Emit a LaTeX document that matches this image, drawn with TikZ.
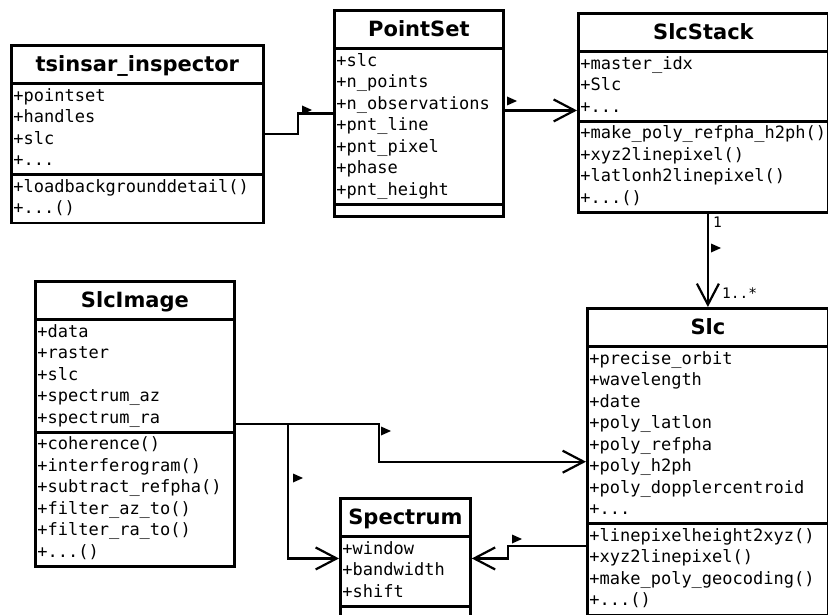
\documentclass[tikz,border=0pt]{standalone}
\usepackage{fontspec}
\setmainfont{DejaVu Sans}
\setmonofont{DejaVu Sans Mono}
\usepackage{tikz}
\usetikzlibrary{shapes.multipart, arrows.meta, positioning}
\newcommand{\classname}[1]{{\fontsize{21}{33}\selectfont\bfseries\begin{tabular}{@{}c@{}}#1\end{tabular}}}
\newcommand{\members}[1]{{\fontsize{17}{21.5}\selectfont\ttfamily\begin{tabular}{@{}l@{}}#1\end{tabular}}}
\tikzset{
    umlclass/.style={rectangle split, rectangle split parts=3, draw, line width=2.8pt, fill=white, inner xsep=2pt, inner ysep=1.2pt, rectangle split part align={center,left,left}, rectangle split empty part height=7pt, rectangle split empty part depth=0pt, anchor=north west},
    link/.style={line width=2.2pt},
    assoc/.style={link, -{Straight Barb[length=21pt,width=22pt]}},
    mult/.style={font=\fontsize{14.5}{16}\selectfont\ttfamily, inner sep=0pt},
    dirmark/.pic={\fill (0,-4.5) -- (10,0) -- (0,4.5) -- cycle;}
}
\begin{document}
\begin{tikzpicture}[x=1pt, y=-1pt]
        \useasboundingbox (0,0) rectangle (828,615);
        % -- Classes --
        \node (inspector) [umlclass, minimum width=252pt] at (10,44) {\classname{tsinsar\_inspector}\nodepart{two}\members{+pointset\\+handles\\+slc\\+...}\nodepart{three}\members{+loadbackgrounddetail()\\+...()}};
        \node (pointset) [umlclass, minimum width=169pt] at (333,9) {\classname{PointSet}\nodepart{two}\members{+slc\\+n\_points\\+n\_observations\\+pnt\_line\\+pnt\_pixel\\+phase\\+pnt\_height}\nodepart{three}};
        \node (slcstack) [umlclass, minimum width=250pt] at (577,12) {\classname{SlcStack}\nodepart{two}\members{+master\_idx\\+Slc\\+...}\nodepart{three}\members{+make\_poly\_refpha\_h2ph()\\+xyz2linepixel()\\+latlonh2linepixel()\\+...()}};
        \node (slc) [umlclass, minimum width=241pt] at (586,307) {\classname{Slc}\nodepart{two}\members{+precise\_orbit\\+wavelength\\+date\\+poly\_latlon\\+poly\_refpha\\+poly\_h2ph\\+poly\_dopplercentroid\\+...}\nodepart{three}\members{+linepixelheight2xyz()\\+xyz2linepixel()\\+make\_poly\_geocoding()\\+...()}};
        \node (slcimage) [umlclass, minimum width=199pt] at (34,280) {\classname{SlcImage}\nodepart{two}\members{+data\\+raster\\+slc\\+spectrum\_az\\+spectrum\_ra}\nodepart{three}\members{+coherence()\\+interferogram()\\+subtract\_refpha()\\+filter\_az\_to()\\+filter\_ra\_to()\\+...()}};
        \node (spectrum) [umlclass, minimum width=130pt] at (339,497) {\classname{Spectrum}\nodepart{two}\members{+window\\+bandwidth\\+shift}\nodepart{three}};

        % -- Associations --
        \draw [link] (inspector.east) -- ++(33,0) |- (pointset.west);
        \pic (mark-ins) at (302,110) {dirmark};

        \coordinate (ps-out) at ([yshift=3pt]pointset.east);
        \draw [assoc] (ps-out) -- (ps-out -| slcstack.west);
        \pic (mark-ps) at (507,101) {dirmark};

        \draw [assoc] (slcstack.south -| slc.north) -- (slc.north);
        \node [mult, anchor=base west] (one) at (713,227) {1};
        \node [mult, anchor=base west] (many) at (722,298) {1..*};
        \pic (mark-stack) at (711,248) {dirmark};

        \draw [assoc] (slcimage.east) -- ++(143,0) |- (slc.west);
        \pic (mark-img) at (381,431) {dirmark};

        \draw [assoc] (slcimage.east) -- ++(52,0) |- (spectrum.west);
        \pic (mark-spec) at (293,478) {dirmark};

        \coordinate (slc-out) at ([yshift=-84.5pt]slc.west);
        \draw [assoc] (slc-out) -- ++(-78,0) |- (spectrum.east);
        \pic (mark-slc) at (512,539) {dirmark};
    \end{tikzpicture}
\end{document}
